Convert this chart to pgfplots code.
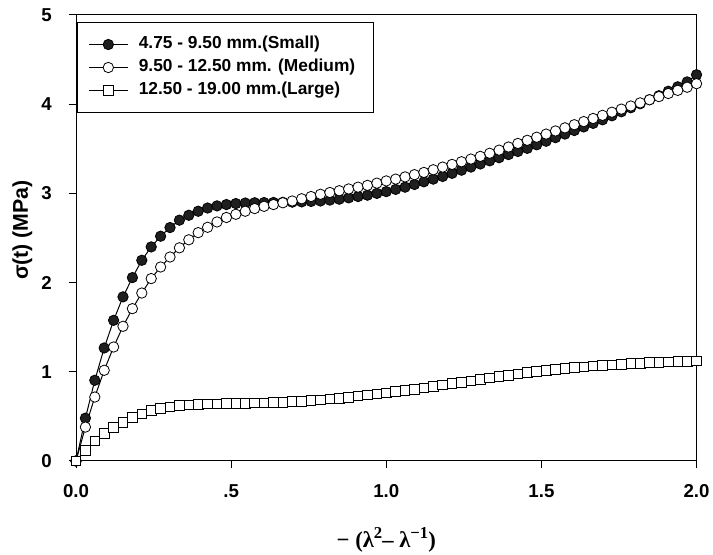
\documentclass[border=0pt]{standalone}
\usepackage{fontspec}
\setmainfont{Liberation Sans}
\newfontfamily\seriffont{Liberation Serif}
\usepackage{pgfplots}
\usepackage{pgfplotstable}
\pgfplotsset{compat=1.18}

% stress vs. strain function for three aggregate size ranges
\pgfplotstableread{
x      small  medium large
0.0000 0.000  0.000  0.000
0.0303 0.480  0.380  0.120
0.0606 0.905  0.717  0.225
0.0909 1.267  1.017  0.310
0.1212 1.577  1.278  0.375
0.1515 1.840  1.510  0.434
0.1818 2.056  1.708  0.487
0.2121 2.250  1.883  0.530
0.2424 2.400  2.045  0.568
0.2727 2.520  2.175  0.590
0.3030 2.617  2.287  0.605
0.3333 2.700  2.390  0.620
0.3636 2.755  2.480  0.628
0.3939 2.800  2.560  0.635
0.4242 2.836  2.620  0.640
0.4545 2.860  2.680  0.642
0.4848 2.875  2.730  0.644
0.5152 2.886  2.766  0.646
0.5455 2.892  2.800  0.648
0.5758 2.895  2.830  0.650
0.6061 2.897  2.855  0.652
0.6364 2.898  2.875  0.655
0.6667 2.900  2.895  0.659
0.6970 2.902  2.915  0.665
0.7273 2.905  2.940  0.671
0.7576 2.910  2.965  0.678
0.7879 2.915  2.990  0.686
0.8182 2.925  3.010  0.695
0.8485 2.935  3.030  0.705
0.8788 2.950  3.050  0.716
0.9091 2.965  3.070  0.728
0.9394 2.980  3.090  0.740
0.9697 3.000  3.115  0.752
1.0000 3.020  3.140  0.765
1.0303 3.045  3.160  0.778
1.0606 3.070  3.185  0.792
1.0909 3.100  3.210  0.806
1.1212 3.130  3.235  0.821
1.1515 3.160  3.265  0.836
1.1818 3.190  3.295  0.852
1.2121 3.225  3.325  0.868
1.2424 3.260  3.355  0.884
1.2727 3.295  3.385  0.900
1.3030 3.330  3.415  0.916
1.3333 3.365  3.450  0.932
1.3636 3.400  3.485  0.947
1.3939 3.435  3.520  0.962
1.4242 3.470  3.560  0.976
1.4545 3.505  3.595  0.990
1.4848 3.545  3.630  1.003
1.5152 3.585  3.665  1.015
1.5455 3.625  3.700  1.027
1.5758 3.665  3.735  1.038
1.6061 3.705  3.770  1.048
1.6364 3.745  3.805  1.057
1.6667 3.785  3.840  1.065
1.6970 3.825  3.875  1.072
1.7273 3.870  3.910  1.079
1.7576 3.915  3.945  1.085
1.7879 3.960  3.980  1.091
1.8182 4.005  4.015  1.097
1.8485 4.050  4.050  1.102
1.8788 4.095  4.085  1.107
1.9091 4.145  4.120  1.111
1.9394 4.195  4.155  1.115
1.9697 4.250  4.190  1.119
2.0000 4.330  4.230  1.123
}\stressdata

\newcommand{\sups}[1]{\raisebox{0.42em}{\fontsize{12.5}{12.5}\selectfont #1}}

\begin{document}
\begin{tikzpicture}
\useasboundingbox (-57pt,-70.5pt) rectangle (477.75pt,345.75pt);
\begin{axis}[
  at={(0pt,0pt)}, anchor=south west,
  scale only axis,
  width=465.4pt, height=334.5pt,
  xmin=0, xmax=2, ymin=0, ymax=5,
  axis line style={line width=0.75pt},
  xtick={0,0.5,1,1.5,2},
  xticklabels={0.0,.5,1.0,1.5,2.0},
  ytick={0,1,2,3,4,5},
  yticklabels={0,1,2,3,4,5},
  xtick pos=left, ytick pos=left,
  tick align=outside,
  major tick length=5.5pt,
  every tick/.style={line width=0.75pt, black},
  tick label style={font=\fontsize{14}{16}\selectfont\bfseries},
  /pgf/number format/assume math mode=true,
  xticklabel style={inner sep=0pt, anchor=north, yshift=-12pt},
  yticklabel style={inner sep=0pt, anchor=east, xshift=-12.5pt},
  xlabel={{\seriffont\bfseries\fontsize{17}{20}\selectfont − (λ\sups{2}– λ\sups{−1})}},
  xlabel style={at={(axis description cs:0.5,0)}, anchor=base, yshift=-65.25pt},
  ylabel={\fontsize{16}{19}\selectfont\bfseries σ(t) (MPa)},
  ylabel style={at={(axis description cs:0,0.518)}, anchor=base, yshift=36pt},
  legend style={
    at={(axis description cs:0.0016,0.985)}, anchor=north west,
    draw=black, line width=0.75pt,
    font=\fontsize{13}{15}\selectfont\bfseries,
    inner xsep=8.25pt, inner ysep=10.5pt,
    row sep=4.75pt, column sep=8pt,
    nodes={inner sep=0pt, text height=9.5pt, text depth=3pt},
  },
  legend cell align=left,
  legend image code/.code={%
    \draw[mark repeat=2, mark phase=2, line width=0.75pt]
      plot coordinates {(0pt,0pt) (14.5pt,0pt) (29pt,0pt)};
  },
]
\addplot[black, line width=0.75pt, mark=*, mark size=3.9pt,
  mark options={fill=black!88, draw=black, line width=0.6pt}]
  table[x=x, y=small] {\stressdata};
\addlegendentry{4.75 - 9.50 mm.(Small)}
\addplot[black, line width=0.75pt, mark=*, mark size=3.9pt,
  mark options={fill=white, draw=black, line width=0.6pt}]
  table[x=x, y=medium] {\stressdata};
\addlegendentry{9.50 - 12.50 mm. (Medium)\hspace*{5.25pt}}
\addplot[black, line width=0.75pt, mark=square*, mark size=3.6pt,
  mark options={fill=white, draw=black, line width=0.6pt}]
  table[x=x, y=large] {\stressdata};
\addlegendentry{12.50 - 19.00 mm.(Large)}
\end{axis}
\end{tikzpicture}
\end{document}
